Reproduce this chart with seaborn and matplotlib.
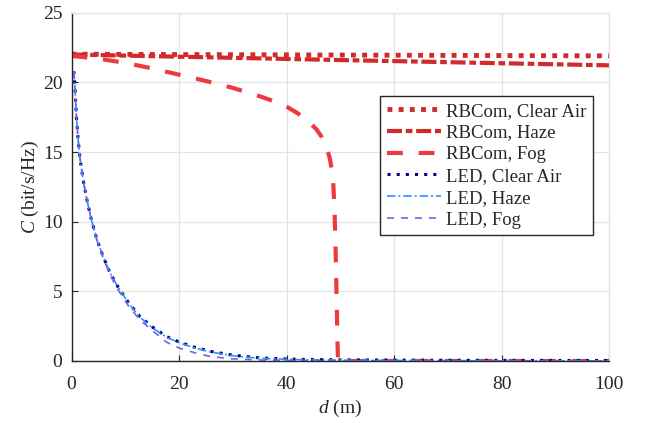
import numpy as np
import pandas as pd
import seaborn as sns
import matplotlib.pyplot as plt

# values
d_rb = [0, 25, 50, 75, 100]
c_rb_clear = [22.02, 21.99, 21.96, 21.93, 21.90]
c_rb_haze = [22.0, 21.8, 21.6, 21.41, 21.22]

d_rb_fog = [0, 5, 10, 15, 20, 25, 30, 35, 38, 40, 42, 44, 45.5, 46.5, 47.3, 48,
            48.6, 48.9, 49.1, 49.3, 49.45, 49.55, 60, 80, 100]
c_rb_fog = [21.9, 21.7, 21.4, 21.0, 20.55, 20.1, 19.6, 19.0, 18.6, 18.25, 17.8,
            17.2, 16.65, 16.1, 15.45, 14.6, 13.3, 11.0, 8.0, 4.5, 1.5, 0, 0, 0, 0]

d_led = [0.43, 0.61, 0.9, 1.23, 1.6, 2.16, 2.9, 3.72, 4.7, 5.88, 7.2, 8.67, 10.5,
         12.7, 15, 17.67, 20.1, 22.8, 25.7, 30, 35, 42, 50, 70, 100]
c_led_clear = [20.8, 19.9, 17.6, 15.9, 14.5, 13.0, 11.5, 10.1, 8.75, 7.5, 6.3, 5.3,
               4.25, 3.2, 2.45, 1.75, 1.35, 1.0, 0.7, 0.42, 0.22, 0.12, 0.08, 0.05, 0.03]
c_led_haze = [20.8, 19.9, 17.6, 15.9, 14.5, 13.0, 11.5, 10.1, 8.75, 7.5, 6.3, 5.3,
              4.22, 3.15, 2.4, 1.7, 1.3, 0.95, 0.66, 0.38, 0.19, 0.1, 0.06, 0.03, 0.01]
c_led_fog = [20.8, 19.9, 17.6, 15.9, 14.5, 13.0, 11.5, 10.1, 8.7, 7.4, 6.15, 5.1,
             4.0, 2.95, 2.2, 1.35, 0.92, 0.6, 0.33, 0.15, 0.07, 0.03, 0.01, 0, 0]

series = [
    ('RBCom, Clear Air', d_rb, c_rb_clear, '#d12a2a', 3.5, (1, 1.3)),
    ('RBCom, Haze', d_rb, c_rb_haze, '#d12a2a', 3.0, (3.6, 0.9, 1.6, 0.9)),
    ('RBCom, Fog', d_rb_fog, c_rb_fog, '#ec3a3f', 3.0, (3.8, 3.8)),
    ('LED, Clear Air', d_led, c_led_clear, '#00008b', 2.2, (1, 2.0)),
    ('LED, Haze', d_led, c_led_haze, '#2b95ff', 1.2, (5, 1.8, 1.2, 1.8)),
    ('LED, Fog', d_led, c_led_fog, '#7b62e0', 1.2, (4.2, 4.2)),
]

sns.set_style('whitegrid')
plt.rcParams['font.family'] = ['Liberation Serif', 'DejaVu Serif']
plt.rcParams['mathtext.fontset'] = 'custom'
plt.rcParams['mathtext.it'] = 'Liberation Serif:italic'
plt.rcParams['mathtext.rm'] = 'Liberation Serif'

fig, ax = plt.subplots(figsize=(6.5, 4.23), dpi=100)
fig.subplots_adjust(left=0.110, right=0.9374, top=0.970, bottom=0.1466)

handles = []
for name, x, y, col, lw, dash in series:
    df = pd.DataFrame({'d': x, 'C': y})
    sns.lineplot(data=df, x='d', y='C', ax=ax, color=col, lw=lw, sort=False)
    line = ax.lines[-1]
    line.set_dashes(dash)
    line.set_dash_capstyle('butt')
    line.set_label(name)
    handles.append(line)

ax.set_xlim(0, 100)
ax.set_ylim(0, 25)
ax.set_xticks([0, 20, 40, 60, 80, 100])
ax.set_yticks([0, 5, 10, 15, 20, 25])
ax.grid(True, color='#e3e3e3', lw=0.9)
ax.tick_params(direction='in', length=4, width=0.8, labelsize=14,
               colors='#262626', left=True, bottom=True)
ax.tick_params(axis='x', pad=11)
ax.tick_params(axis='y', pad=6.5)
for s in ['left', 'bottom']:
    ax.spines[s].set_color('#262626')
    ax.spines[s].set_linewidth(1.0)
for s in ['top', 'right']:
    ax.spines[s].set_color('#e3e3e3')
    ax.spines[s].set_linewidth(0.9)

ax.set_xlabel('$d$ (m)', fontsize=14, color='#262626', labelpad=3)
ax.set_ylabel('$C$ (bit/s/Hz)', fontsize=14, color='#262626', labelpad=1.5)

leg = ax.legend(handles=handles, loc='upper right', bbox_to_anchor=(0.969, 0.761),
                borderaxespad=0, fontsize=13.5, frameon=True, fancybox=False,
                framealpha=1, edgecolor='#262626', handlelength=2.9,
                handletextpad=0.25, labelspacing=0.25, borderpad=0.35)
leg.get_frame().set_linewidth(1.0)

fig.savefig('out.png', dpi=100)
